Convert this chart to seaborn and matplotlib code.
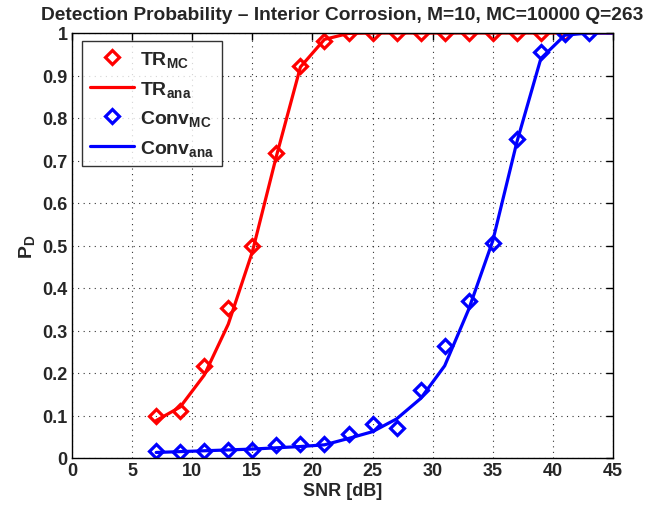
import matplotlib
matplotlib.use("Agg")
import matplotlib.pyplot as plt
import seaborn as sns
import pandas as pd
import numpy as np

# ---- data ----
snr_mc_tr = [7, 9, 11, 13, 15, 17, 19, 21, 23, 25, 27, 29, 31, 33, 35, 37, 39, 41]
pd_mc_tr = [0.098, 0.11, 0.217, 0.353, 0.499, 0.718, 0.922, 0.982, 1.0, 1.0,
            1.0, 1.0, 1.0, 1.0, 1.0, 1.0, 1.0, 1.0]
snr_ana = [7, 9, 11, 13, 15, 17, 19, 21, 23, 25, 27, 29, 31, 33, 35, 37, 39, 41, 43, 45]
pd_ana_tr = [0.088, 0.12, 0.195, 0.315, 0.485, 0.71, 0.92, 0.985, 0.999, 1.0,
             1.0, 1.0, 1.0, 1.0, 1.0, 1.0, 1.0, 1.0, 1.0, 1.0]
snr_mc_conv = [7, 9, 11, 13, 15, 17, 19, 21, 23, 25, 27, 29, 31, 33, 35, 37, 39, 41, 43]
pd_mc_conv = [0.017, 0.015, 0.017, 0.018, 0.019, 0.03, 0.032, 0.034, 0.056, 0.079,
              0.071, 0.161, 0.264, 0.369, 0.507, 0.751, 0.955, 0.998, 1.0]
pd_ana_conv = [0.013, 0.015, 0.017, 0.019, 0.021, 0.024, 0.027, 0.031, 0.046, 0.062,
               0.092, 0.14, 0.217, 0.35, 0.511, 0.743, 0.94, 0.995, 1.0, 1.0]

xticks = [0, 5, 10, 15, 20, 25, 30, 35, 40, 45]
yticks = [0, 0.1, 0.2, 0.3, 0.4, 0.5, 0.6, 0.7, 0.8, 0.9, 1.0]
ytick_labels = ["0", "0.1", "0.2", "0.3", "0.4", "0.5", "0.6", "0.7", "0.8", "0.9", "1"]

labels = [r"TR$_{\mathbf{MC}}$", r"TR$_{\mathbf{ana}}$",
          r"Conv$_{\mathbf{MC}}$", r"Conv$_{\mathbf{ana}}$"]
title = "Detection Probability \u2013 Interior Corrosion, M=10, MC=10000 Q=263"

sns.set_style("white")
plt.rcParams["font.family"] = ["Liberation Sans", "DejaVu Sans"]
plt.rcParams["font.weight"] = "bold"
plt.rcParams["mathtext.fontset"] = "custom"
plt.rcParams["mathtext.rm"] = "Liberation Sans:bold"
plt.rcParams["mathtext.bf"] = "Liberation Sans:bold"
plt.rcParams["mathtext.it"] = "Liberation Sans:bold"
plt.rcParams["mathtext.default"] = "bf"

df_tr_mc = pd.DataFrame({"snr": snr_mc_tr, "pd": pd_mc_tr})
df_tr_ana = pd.DataFrame({"snr": snr_ana, "pd": pd_ana_tr})
df_cv_mc = pd.DataFrame({"snr": snr_mc_conv, "pd": pd_mc_conv})
df_cv_ana = pd.DataFrame({"snr": snr_ana, "pd": pd_ana_conv})

fig = plt.figure(figsize=(6.48, 5.10), dpi=100)
ax = fig.add_axes([72/648, 1 - 459/510, (613-72)/648, (459-34)/510])

red = "#ff0000"
blue = "#0000ff"
mk = dict(marker="D", linestyle="", markerfacecolor="none", markersize=7.5,
          markeredgewidth=2.3)
sns.lineplot(data=df_tr_mc, x="snr", y="pd", ax=ax, color=red,
             markeredgecolor=red, label=labels[0], **mk)
sns.lineplot(data=df_tr_ana, x="snr", y="pd", ax=ax, color=red, linewidth=2.3,
             label=labels[1])
sns.lineplot(data=df_cv_mc, x="snr", y="pd", ax=ax, color=blue,
             markeredgecolor=blue, label=labels[2], **mk)
sns.lineplot(data=df_cv_ana, x="snr", y="pd", ax=ax, color=blue, linewidth=2.3,
             label=labels[3])

ax.set_xlim(0, 45)
ax.set_ylim(0, 1)
ax.set_xticks(xticks)
ax.set_yticks(yticks)
ax.set_yticklabels(ytick_labels)
ax.grid(True, color="black", linestyle=(0, (1, 4)), linewidth=0.8, alpha=0.8)
ax.tick_params(direction="in", length=5, width=1, labelsize=13, top=True, right=True,
               pad=3, color="black")
for lab in ax.get_xticklabels() + ax.get_yticklabels():
    lab.set_fontweight("bold")
for s in ax.spines.values():
    s.set_visible(True)
    s.set_color("black")
    s.set_linewidth(1)

ax.set_xlabel("SNR [dB]", fontsize=13, fontweight="bold", labelpad=2)
ax.set_ylabel(r"P$_{\mathbf{D}}$", fontsize=14, fontweight="bold", labelpad=4)
ax.set_title(title, fontsize=13.75, fontweight="bold", pad=10)

h, l = ax.get_legend_handles_labels()
leg = ax.legend(h, l, loc="upper left", bbox_to_anchor=(0.018, 0.981),
                borderaxespad=0, fontsize=14, frameon=True, fancybox=False,
                edgecolor="black", handlelength=2.3, labelspacing=0.5,
                borderpad=0.4, handletextpad=0.3)
leg.get_frame().set_linewidth(1)
for t in leg.get_texts():
    t.set_fontweight("bold")

fig.savefig("out.png", dpi=100)
